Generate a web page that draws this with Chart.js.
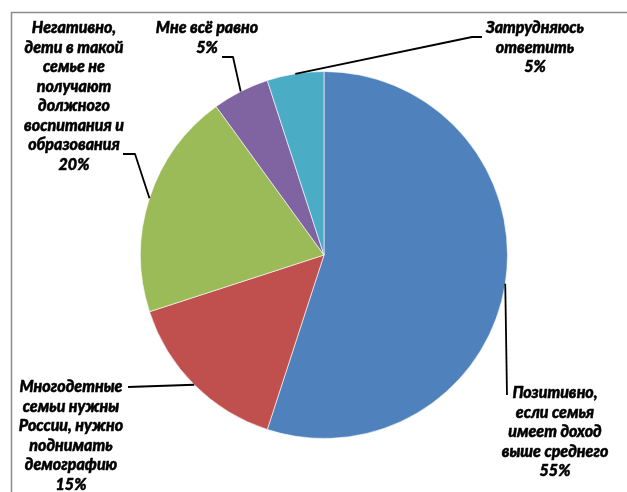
<!DOCTYPE html>
<html lang="ru">
<head>
<meta charset="utf-8">
<title>Отношение к многодетным семьям</title>
<script src="https://cdn.jsdelivr.net/npm/chart.js@4/dist/chart.umd.min.js"></script>
<style>
  html, body { margin: 0; padding: 0; background: #ffffff; }
  #wrap { width: 627px; height: 492px; position: relative; }
</style>
</head>
<body>
<div id="wrap"><canvas id="pie" width="627" height="492"></canvas></div>
<script>
// Categories (line breaks as printed in the labels) and their shares, %
const categories = [
  "Позитивно,\nесли семья\nимеет доход\nвыше среднего",
  "Многодетные\nсемьи нужны\nРоссии, нужно\nподнимать\nдемографию",
  "Негативно,\nдети в такой\nсемье не\nполучают\nдолжного\nвоспитания и\nобразования",
  "Мне всё равно",
  "Затрудняюсь\nответить"
];
const shares = [55, 15, 20, 5, 5];
const sliceColors = ["#4F81BD", "#C0504D", "#9BBB59", "#8064A2", "#4BACC6"];

// Where each label sits (centre of its first line) and the bends of its leader line
const labelLayout = [
  { x: 555, y: 393, bends: [[507, 395]] },
  { x: 71,  y: 387, bends: [[128, 387]] },
  { x: 74,  y: 28,  bends: [[135, 154], [123, 154]] },
  { x: 207, y: 28,  bends: [[233, 57], [222, 57]] },
  { x: 535, y: 28,  bends: [[472, 37], [482, 37]] }
];

const LINE_H = 19.5;
const LABEL_FONT = "italic 900 16px Lato, 'Open Sans', sans-serif";

const framePlugin = {
  id: "frame",
  beforeDraw(chart) {
    const ctx = chart.ctx;
    ctx.save();
    ctx.strokeStyle = "#8c8c8c";
    ctx.lineWidth = 1.5;
    ctx.beginPath();
    ctx.moveTo(11.5, chart.height);
    ctx.lineTo(11.5, 12.5);
    ctx.lineTo(chart.width, 12.5);
    ctx.stroke();
    ctx.restore();
  }
};

const labelPlugin = {
  id: "sliceLabels",
  afterDatasetsDraw(chart) {
    const ctx = chart.ctx;
    const meta = chart.getDatasetMeta(0);
    const values = chart.data.datasets[0].data;
    ctx.save();
    meta.data.forEach((arc, i) => {
      const mid = (arc.startAngle + arc.endAngle) / 2;
      const ax = arc.x + Math.cos(mid) * arc.outerRadius;
      const ay = arc.y + Math.sin(mid) * arc.outerRadius;
      const lay = labelLayout[i];
      // leader line
      ctx.strokeStyle = "#000000";
      ctx.lineWidth = 1.8;
      ctx.beginPath();
      ctx.moveTo(ax, ay);
      lay.bends.forEach(p => ctx.lineTo(p[0], p[1]));
      ctx.stroke();
      // label text, with a thin outline for a heavier weight
      const lines = chart.data.labels[i].split("\n").concat([values[i] + "%"]);
      ctx.font = LABEL_FONT;
      ctx.fillStyle = "#000000";
      ctx.lineWidth = 0.5;
      ctx.lineJoin = "round";
      ctx.textAlign = "center";
      ctx.textBaseline = "middle";
      lines.forEach((t, k) => {
        ctx.fillText(t, lay.x, lay.y + k * LINE_H);
        ctx.strokeText(t, lay.x, lay.y + k * LINE_H);
      });
    });
    ctx.restore();
  }
};

new Chart(document.getElementById("pie"), {
  type: "pie",
  data: {
    labels: categories,
    datasets: [{
      data: shares,
      backgroundColor: sliceColors,
      borderColor: "rgba(255,255,255,0.6)",
      borderWidth: 1
    }]
  },
  options: {
    responsive: false,
    animation: false,
    layout: { padding: { left: 140, right: 119, top: 71, bottom: 53 } },
    plugins: {
      legend: { display: false },
      tooltip: { enabled: false }
    }
  },
  plugins: [framePlugin, labelPlugin]
});
</script>
</body>
</html>
